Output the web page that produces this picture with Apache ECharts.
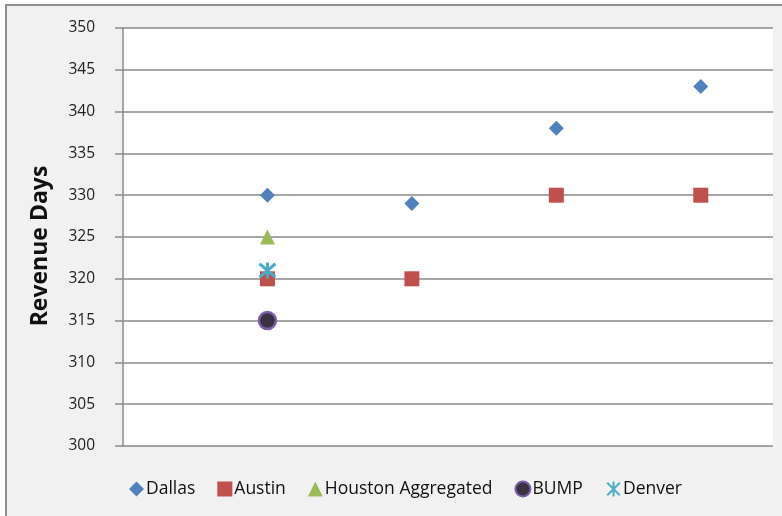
<!DOCTYPE html>
<html>
<head>
<meta charset="utf-8">
<style>
  html, body { margin: 0; padding: 0; background: #ffffff; }
  #chart { width: 782px; height: 516px; }
</style>
<script src="https://cdn.jsdelivr.net/npm/echarts@6/dist/echarts.min.js"></script>
</head>
<body>
<div id="chart"></div>
<script>
// Revenue days per city; x is the position of each point in the sequence
const dallas  = [[1, 330], [2, 329], [3, 338], [4, 343]];
const austin  = [[1, 320], [2, 320], [3, 330], [4, 330]];
const houston = [[1, 325]];
const bump    = [[1, 315]];
const denver  = [[1, 321]];

const seriesNames = ['Dallas', 'Austin', 'Houston Aggregated', 'BUMP', 'Denver'];
const yTicks = { min: 300, max: 350, interval: 5 };
const yTitle = 'Revenue Days';

// X with a vertical stroke (star marker)
const starPath = 'path://M2,2 L22,22 M22,2 L2,22 M12,0 L12,24';

const chart = echarts.init(document.getElementById('chart'), null, { renderer: 'canvas' });

chart.setOption({
  backgroundColor: '#ffffff',
  animation: false,
  graphic: [
    {
      type: 'rect',
      z: -10,
      shape: { x: 6, y: 5, width: 800, height: 540 },
      style: { fill: '#f1f1f1', stroke: '#8f8f8f', lineWidth: 2 }
    },
    {
      type: 'text',
      x: 40, y: 246,
      rotation: Math.PI / 2,
      style: {
        text: yTitle,
        fontFamily: 'Open Sans', fontSize: 23, fontWeight: 'bold', fill: '#111',
        align: 'center', verticalAlign: 'middle'
      }
    }
  ],
  grid: {
    left: 123, right: 9, top: 28, bottom: 70,
    show: true, backgroundColor: '#ffffff', borderWidth: 0
  },
  xAxis: {
    type: 'value', min: 0, max: 4.5, show: false
  },
  yAxis: {
    type: 'value',
    min: yTicks.min, max: yTicks.max, interval: yTicks.interval,
    axisLine: { show: true, lineStyle: { color: '#8a8a8a', width: 1.5 } },
    axisTick: { show: true, length: 8, lineStyle: { color: '#8a8a8a', width: 1.5 } },
    axisLabel: { margin: 28, fontFamily: 'Open Sans', fontSize: 15.5, color: '#222' },
    splitLine: { show: true, lineStyle: { color: '#8a8a8a', width: 1.5 } }
  },
  legend: {
    bottom: 12, left: 124,
    itemGap: 22, itemWidth: 15, itemHeight: 15,
    textStyle: { fontFamily: 'Open Sans', fontSize: 17.5, color: '#111', padding: [0, 0, 0, -3] },
    data: seriesNames
  },
  series: [
    { name: seriesNames[0], type: 'scatter', data: dallas, symbol: 'diamond', symbolSize: [15, 15],
      itemStyle: { color: '#4f81bd', opacity: 1 } },
    { name: seriesNames[1], type: 'scatter', data: austin, symbol: 'rect', symbolSize: 15,
      itemStyle: { color: '#c0504d', opacity: 1 } },
    { name: seriesNames[2], type: 'scatter', data: houston, symbol: 'triangle', symbolSize: 15,
      itemStyle: { color: '#9bbb59', opacity: 1 } },
    { name: seriesNames[3], type: 'scatter', data: bump, symbol: 'circle', symbolSize: 17,
      itemStyle: { color: '#3a3242', borderColor: '#7a5fa8', borderWidth: 2.5, opacity: 1 } },
    { name: seriesNames[4], type: 'scatter', data: denver, symbol: starPath, symbolSize: 16,
      itemStyle: { color: 'none', borderColor: '#4bacc6', borderWidth: 3, opacity: 1 } }
  ]
});
</script>
</body>
</html>
